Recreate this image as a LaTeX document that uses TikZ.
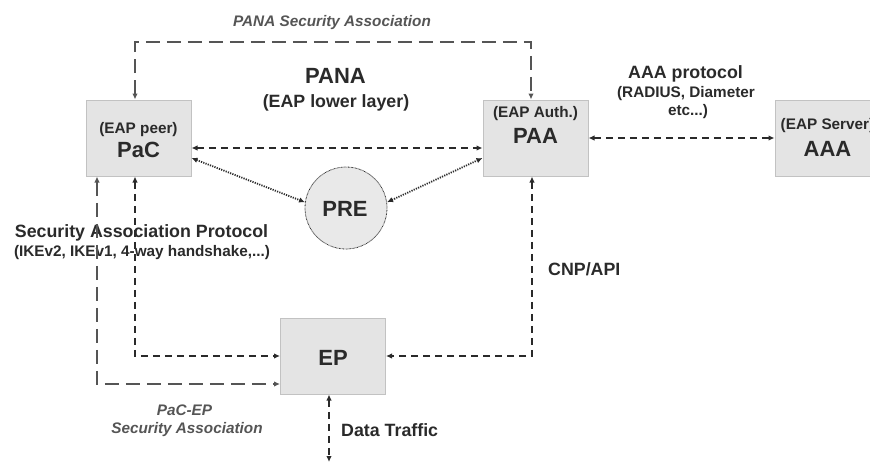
\documentclass[tikz,border=0pt]{standalone}
\usepackage{fontspec}
\setmainfont{Liberation Sans}
\usepackage{tikz}
\usetikzlibrary{arrows.meta}
\usetikzlibrary{calc}
\usepackage{xcolor}
\definecolor{txtgray}{HTML}{2A2A2A}
\definecolor{sagray}{HTML}{555555}
\definecolor{boxfill}{HTML}{E4E4E4}
\definecolor{boxline}{HTML}{C2C2C2}
\tikzstyle{entity}=[draw=boxline, fill=boxfill, line width=1pt, minimum width=105pt, minimum height=76pt, inner sep=0pt]
\tikzstyle{relay}=[circle, draw=txtgray, fill=boxfill!80!white, dash pattern=on 0.7pt off 0.7pt, line width=0.8pt, minimum size=82pt, inner sep=0pt]
\tikzstyle{bigtxt}=[anchor=base, inner sep=0pt, text=txtgray, font=\bfseries\fontsize{22}{24}\selectfont]
\tikzstyle{midtxt}=[anchor=base, inner sep=0pt, text=txtgray, font=\bfseries\fontsize{17.8}{20}\selectfont]
\tikzstyle{subtxt}=[anchor=base, inner sep=0pt, text=txtgray, font=\bfseries\fontsize{15.3}{17}\selectfont]
\tikzstyle{satxt}=[anchor=base, inner sep=0pt, text=sagray, font=\bfseries\itshape\fontsize{15.3}{17}\selectfont]
\tikzstyle{msg}=[draw=txtgray, line width=2pt, dash pattern=on 7pt off 5pt, {Latex[length=6pt,width=5.5pt]}-{Latex[length=6pt,width=5.5pt]}]
\tikzstyle{salink}=[draw=sagray, line width=2pt, dash pattern=on 14pt off 7pt, {Latex[length=6pt,width=5.5pt]}-{Latex[length=6pt,width=5.5pt]}]
\tikzstyle{prelink}=[draw=txtgray, line width=1.8pt, dash pattern=on 1.2pt off 1.2pt, {Latex[length=6pt,width=5.5pt]}-{Latex[length=6pt,width=5.5pt]}]

\begin{document}
\begin{tikzpicture}[x=1pt,y=-1pt]
\path[use as bounding box,clip] (0,0) rectangle (870,463);
\foreach \n/\x/\y in {pac/138.5/138,paa/535.5/138,aaa/827.5/138,ep/333/356} {
	\node[entity] (\n) at (\x,\y) {};
}
\node[relay] (pre) at (346,208) {};
\coordinate (sa1) at (135,42);
\coordinate (sa2) at (531,42);
\coordinate (sa3) at (97,384);
\coordinate (sap) at (135,356);
\coordinate (cnp) at (532,356);
\coordinate (dt) at (329,462);

\node[satxt] (panasa) at (332,26) {PANA Security Association};
\node[bigtxt] (pana) at (335.5,83) {PANA};
\node[midtxt] (lower) at (336,107) {(EAP lower layer)};
\node[midtxt] (aaaproto) at (685.5,78) {AAA protocol};
\node[subtxt] (radius) at (686,97) {(RADIUS, Diameter};
\node[subtxt] (etc) at (688,115) {etc...)};
\node[subtxt] (paarole) at (535.5,117) {(EAP Auth.)};
\node[bigtxt] (paaname) at (535.5,143) {PAA};
\node[subtxt] (pacrole) at (138.5,133) {(EAP peer)};
\node[bigtxt] (pacname) at (138.5,157) {PaC};
\node[subtxt] (aaarole) at (827.5,129) {(EAP Server)};
\node[bigtxt] (aaaname) at (827.5,156) {AAA};
\node[bigtxt] (prename) at (345,216) {PRE};
\node[midtxt] (saproto) at (141.5,237) {Security Association Protocol};
\node[subtxt] (ike) at (142,256) {(IKEv2, IKEv1, 4-way handshake,...)};
\node[midtxt, anchor=base west] (cnpapi) at (548,275) {CNP/API};
\node[bigtxt] (epname) at (333,365) {EP};
\node[satxt] (pacep) at (184.5,415) {PaC-EP};
\node[satxt] (pacepsa) at (187,433) {Security Association};
\node[midtxt, anchor=base west] (data) at (341,436) {Data Traffic};

\draw[salink] (pac.north -| sa1) -- (sa1) -- (sa2) -- (paa.north -| sa2);
\draw[msg] ([yshift=-10pt]pac.east) -- ([yshift=-10pt]paa.west);
\draw[msg] (paa.east) -- (aaa.west);
\draw[prelink] ([yshift=-20pt]pac.east) -- (pre.172);
\draw[prelink] (pre.8) -- ([yshift=-20pt]paa.west);
\draw[salink] (pac.south -| sa3) -- (sa3) -- (sa3 -| ep.west);
\draw[msg] (pac.south -| sap) -- (sap) -- (ep.west);
\draw[msg] (paa.south -| cnp) -- (cnp) -- (ep.east);
\draw[msg] (ep.south -| dt) -- (dt);
\end{tikzpicture}
\end{document}
